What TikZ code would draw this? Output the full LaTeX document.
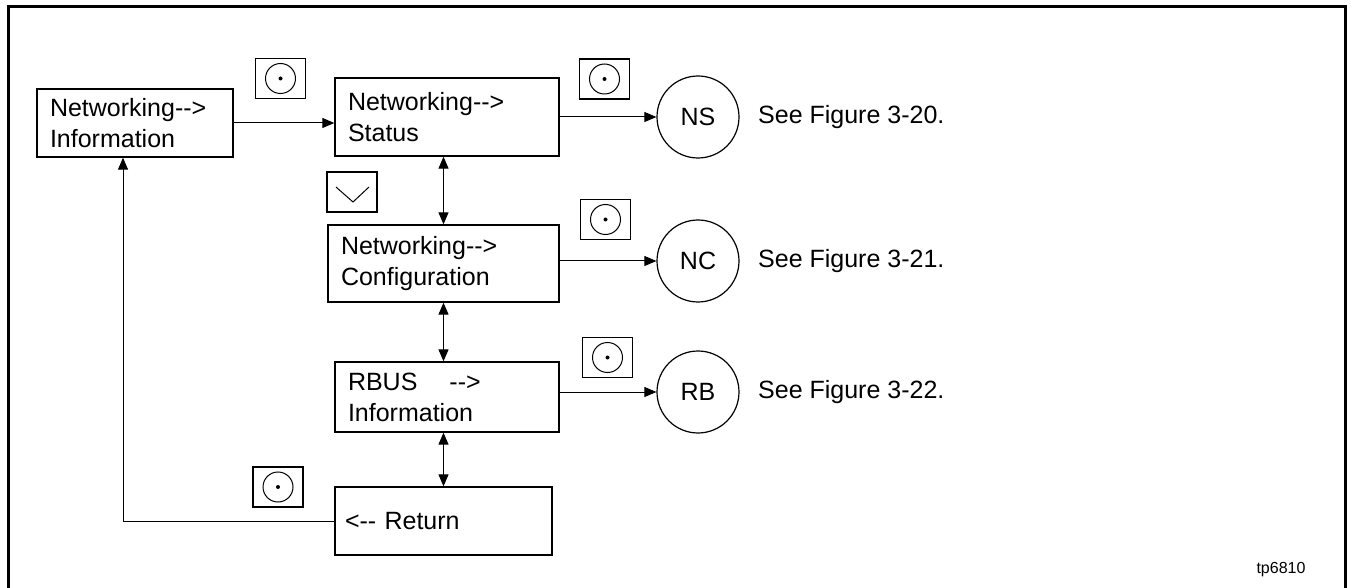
\documentclass[tikz,border=0pt]{standalone}
\usepackage{fontspec}
\setmainfont{Liberation Sans}
\usetikzlibrary{arrows.meta}
\begin{document}
\begin{tikzpicture}[x=1pt, y=-1pt, >={Triangle[length=12pt,width=10pt]},
	menu/.style={draw, line width=1.3pt, align=left, inner xsep=13pt, inner ysep=0pt},
	btn/.style={draw, line width=1.2pt, minimum width=50pt, minimum height=40pt, inner sep=0pt},
	result/.style={draw, circle, line width=1.2pt, minimum size=82pt, inner sep=0pt},
	font=\fontsize{25}{31}\selectfont]

	\useasboundingbox (0,0) rectangle (1353,588);
	\draw[line width=3pt] (8,7) rectangle (1345,600);

	% draw menu boxes
	\node[menu, text width=170pt, minimum height=68pt] (NI) at (135,123) {Networking-{}->\\Information};
	\node[menu, text width=198pt, minimum height=78pt] (NS) at (447,117) {Networking-{}->\\Status};
	\node[menu, text width=205pt, minimum height=77pt] (NC) at (443.5,263.5) {Networking-{}->\\Configuration};
	\node[menu, text width=198pt, minimum height=70pt] (RB) at (447,397) {RBUS\hspace{32pt}-{}->\\Information};
	\node[menu, text width=197pt, minimum height=68pt, inner xsep=10pt] (RT) at (443.5,521) {<-{}- Return};

	% draw keys
	\foreach \k/\x/\y in {a/280.5/78.5, b/604.5/79, c/605.5/219.5, d/607.5/357.5, e/278/487}
	{
		\node[btn] (key_\k) at (\x,\y) {};
		\draw[line width=1pt] (key_\k.center) circle (15);
		\fill (key_\k.center) circle (2);
	}
	\node[btn] (key_dn) at (352,192) {};
	\draw[line width=1pt] (key_dn.center) ++(-16,-5) -- ++(17,15) -- ++(16,-15);

	% draw sub menus
	\foreach \n/\y/\f in {NS/117/20, NC/261/21, RB/392/22}
	{
		\node[result] (c_\n) at (698,\y) {\n};
		\node[anchor=west, inner sep=0pt] (s_\n) at (758,\y) {See Figure 3-\f.};
		\draw[->, line width=1pt] (\n.east |- c_\n) -- (c_\n);
	}

	% draw edges
	\draw[->, line width=1pt] (NI.east) -- (NI.east -| NS.west);
	\draw[<->, line width=1pt] (NC.north |- NS.south) -- (NC.north);
	\draw[<->, line width=1pt] (NC.south) -- (NC.south |- RB.north);
	\draw[<->, line width=1pt] (RT.north |- RB.south) -- (RT.north);
	\coordinate (ret) at (123,521);
	\draw[->, line width=1pt] (RT.west) -- (ret) -- (ret |- NI.south);

	\node[font=\fontsize{16}{19}\selectfont] (tag) at (1281,570) {tp6810};

\end{tikzpicture}
\end{document}
